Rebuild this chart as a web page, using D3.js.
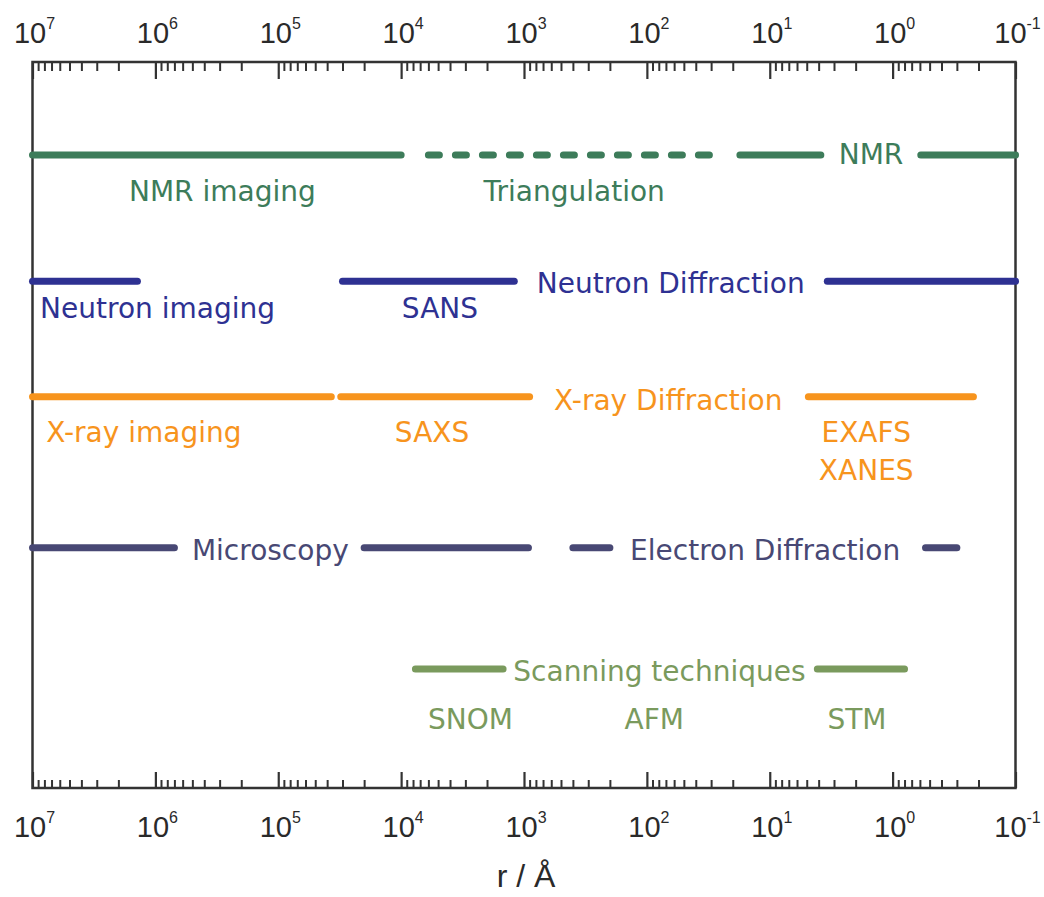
<!DOCTYPE html>
<html>
<head>
<meta charset="utf-8">
<script src="https://cdn.jsdelivr.net/npm/d3@7"></script>
<style>
  html, body { margin: 0; padding: 0; background: #fff; }
  svg { display: block; }
</style>
</head>
<body>
<svg id="chart" width="1044" height="897"></svg>
<script>
// ---------- data ----------
const majorTicks = [1e7, 1e6, 1e5, 1e4, 1e3, 1e2, 1e1, 1e0, 1e-1];
const tickExponents = ["7", "6", "5", "4", "3", "2", "1", "0", "-1"];
const axisTitle = "r / Å";

// techniques (rows): name, level on vertical scale, colour
const rowNames  = ["NMR", "Neutron", "X-ray", "Electron", "Scanning"];
const rowLevels = [87.2, 69.8, 53.9, 33.1, 16.4];
const rowColors = ["#3d7c5a", "#2e3192", "#f7941d", "#484874", "#7a9a5d"];

// segments per row: [from r, to r, style]
const nmrSegments      = [[1e7, 1e4, "solid"], [6e3, 26.5, "dash"], [17.5, 3.84, "solid"], [0.59, 0.1, "solid"]];
const neutronSegments  = [[1e7, 1.4e6, "solid"], [3e4, 1.2e3, "solid"], [3.4, 0.1, "solid"]];
const xraySegments     = [[1e7, 3.7e4, "solid"], [3.1e4, 900, "solid"], [4.85, 0.22, "solid"]];
const electronSegments = [[1e7, 7e5, "solid"], [2e4, 920, "solid"], [400, 200, "solid"], [0.54, 0.30, "solid"]];
const scanningSegments = [[7.65e3, 1.48e3, "solid"], [4.1, 0.80, "solid"]];
const allSegments = [nmrSegments, neutronSegments, xraySegments, electronSegments, scanningSegments];

// labels: text, r position (centre), level (baseline), row index
const labelTexts  = ["NMR imaging", "Triangulation", "NMR",
                     "Neutron imaging", "SANS", "Neutron Diffraction",
                     "X-ray imaging", "SAXS", "X-ray Diffraction", "EXAFS", "XANES",
                     "Microscopy", "Electron Diffraction",
                     "Scanning techniques", "SNOM", "AFM", "STM"];
const labelR      = [2.85e5, 390, 1.5,
                     9.6e5, 4.83e3, 64,
                     1.24e6, 5.6e3, 67, 1.64, 1.64,
                     1.16e5, 10.9,
                     79, 2.73e3, 87, 1.95];
const labelLevels = [80.9, 80.9, 86.0,
                     64.7, 64.7, 68.2,
                     47.7, 47.7, 52.1, 47.7, 42.4,
                     31.4, 31.4,
                     14.7, 8.1, 8.1, 8.1];
const labelRow    = [0, 0, 0,
                     1, 1, 1,
                     2, 2, 2, 2, 2,
                     3, 3,
                     4, 4, 4, 4];

// ---------- layout ----------
const plotLeft = 32.5, plotRight = 1015.5, plotTop = 62, plotBottom = 788;
const svg = d3.select("#chart");

const x = d3.scaleLog().domain([1e7, 1e-1]).range([plotLeft, plotRight]);
const y = d3.scaleLinear().domain([0, 100]).range([plotBottom, plotTop]);

// minor ticks
const minorTicks = x.ticks().filter(t => !majorTicks.some(m => Math.abs(Math.log10(t) - Math.log10(m)) < 1e-6));

const axisColor = "#333";

function styleAxis(g) {
  g.select(".domain").remove();
  g.selectAll(".tick line").attr("stroke", axisColor);
}

// top axis: ticks inward (down)
const topMinor = svg.append("g").attr("transform", `translate(0,${plotTop})`)
  .call(d3.axisTop(x).tickValues(minorTicks).tickSize(-9).tickFormat(""));
styleAxis(topMinor);
topMinor.selectAll(".tick line").attr("stroke-width", 2);

const topMajor = svg.append("g").attr("transform", `translate(0,${plotTop})`)
  .call(d3.axisTop(x).tickValues(majorTicks).tickSize(-17).tickFormat(""));
styleAxis(topMajor);
topMajor.selectAll(".tick line").attr("stroke-width", 2.2);

const botMinor = svg.append("g").attr("transform", `translate(0,${plotBottom})`)
  .call(d3.axisBottom(x).tickValues(minorTicks).tickSize(-8).tickFormat(""));
styleAxis(botMinor);
botMinor.selectAll(".tick line").attr("stroke-width", 2);

const botMajor = svg.append("g").attr("transform", `translate(0,${plotBottom})`)
  .call(d3.axisBottom(x).tickValues(majorTicks).tickSize(-16).tickFormat(""));
styleAxis(botMajor);
botMajor.selectAll(".tick line").attr("stroke-width", 2.2);

// tick labels with superscripts
function addTickLabels(baseY) {
  const g = svg.append("g");
  majorTicks.forEach((t, i) => {
    const txt = g.append("text")
      .attr("x", x(t) + 2)
      .attr("y", baseY)
      .attr("text-anchor", "middle")
      .attr("font-family", "'Liberation Sans', Arial, sans-serif")
      .attr("font-size", 29)
      .attr("fill", "#2a2a2a");
    txt.append("tspan").text("10");
    txt.append("tspan").attr("font-size", 16).attr("dy", -14).text(tickExponents[i]);
  });
}
addTickLabels(43);
addTickLabels(837);

// frame
svg.append("rect")
  .attr("x", plotLeft).attr("y", plotTop)
  .attr("width", plotRight - plotLeft).attr("height", plotBottom - plotTop)
  .attr("fill", "none").attr("stroke", axisColor).attr("stroke-width", 2.5);

// segments
const line = d3.line().x(d => x(d)).y(0);
allSegments.forEach((segs, ri) => {
  const g = svg.append("g").attr("transform", `translate(0,${y(rowLevels[ri])})`);
  g.selectAll("path").data(segs).join("path")
    .attr("d", d => line([d[0], d[1]]))
    .attr("fill", "none")
    .attr("stroke", rowColors[ri])
    .attr("stroke-width", 7)
    .attr("stroke-linecap", "round")
    .attr("stroke-dasharray", d => d[2] === "dash" ? "11 16" : null);
});

// labels
svg.append("g").selectAll("text").data(labelTexts).join("text")
  .attr("x", (d, i) => x(labelR[i]))
  .attr("y", (d, i) => y(labelLevels[i]))
  .attr("text-anchor", "middle")
  .attr("font-family", "'DejaVu Sans', sans-serif")
  .attr("font-size", 28)
  .attr("fill", (d, i) => rowColors[labelRow[i]])
  .text(d => d);

// axis title
svg.append("text")
  .attr("x", (plotLeft + plotRight) / 2 + 2)
  .attr("y", 887)
  .attr("text-anchor", "middle")
  .attr("font-family", "'Liberation Sans', Arial, sans-serif")
  .attr("font-size", 32)
  .attr("fill", "#2a2a2a")
  .text(axisTitle);
</script>
</body>
</html>
